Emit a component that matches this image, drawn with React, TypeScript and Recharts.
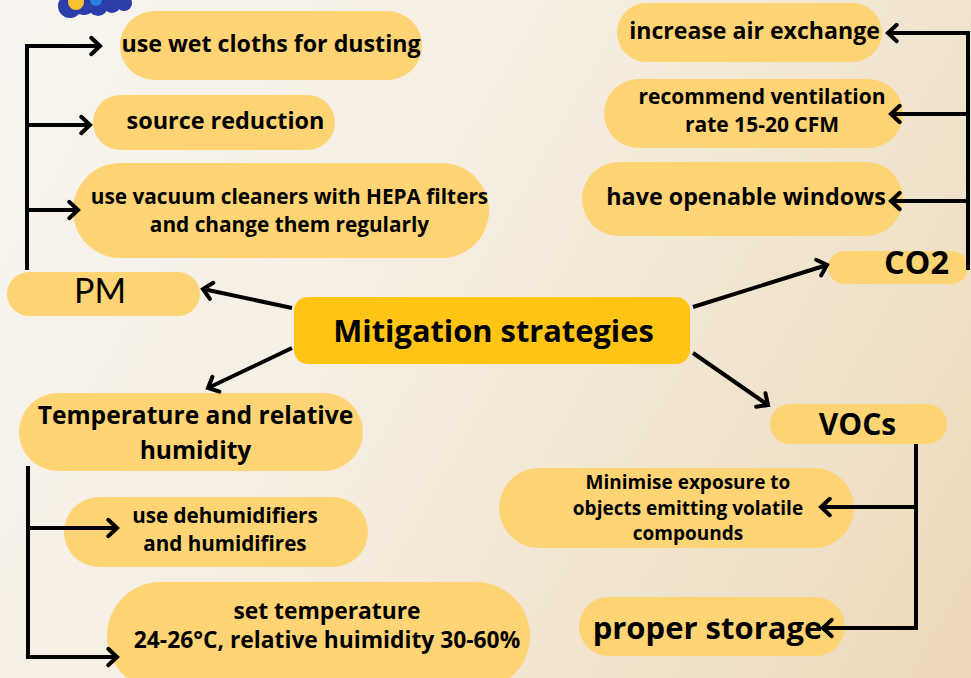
import React from 'react';
import { ScatterChart, Scatter, XAxis, YAxis } from 'recharts';

const W = 971;
const H = 678;
const FONT_BOLD = '"Open Sans", "Noto Sans", sans-serif';
const FONT_REG = 'Lato, "Noto Sans", sans-serif';

// Mind-map nodes: id, text lines, box centre (x, y)
const nodeIds = ['wet', 'source', 'vacuum', 'pm', 'center', 'co2', 'vocs', 'temp', 'dehum', 'settemp', 'minimise', 'storage', 'air', 'vent', 'windows'];
const nodeLabels: Record<string, string[]> = {
  wet: ['use wet cloths for dusting'],
  source: ['source reduction'],
  vacuum: ['use vacuum cleaners with HEPA filters', 'and change them regularly'],
  pm: ['PM'],
  center: ['Mitigation strategies'],
  co2: ['CO2'],
  vocs: ['VOCs'],
  temp: ['Temperature and relative', 'humidity'],
  dehum: ['use dehumidifiers', 'and humidifires'],
  settemp: ['set temperature', '24-26°C, relative huimidity 30-60%'],
  minimise: ['Minimise exposure to', 'objects emitting volatile', 'compounds'],
  storage: ['proper storage'],
  air: ['increase air exchange'],
  vent: ['recommend ventilation', 'rate 15-20 CFM'],
  windows: ['have openable windows'],
};
const nodeX = [271, 214, 281, 103.5, 492, 898, 858.5, 191, 216, 318.5, 676.5, 712, 749.5, 753.5, 742.5];
const nodeY = [45.5, 122.5, 210.5, 294, 330.5, 267.5, 424, 432, 532, 636, 508, 626.5, 32.5, 113.5, 199];

// Box / text styling per node
const nodeStyle: Record<string, { w: number; h: number; fs: number; tx: number; ty: number; lh: number; weight: number; fill: string; rx?: number }> = {
  wet: { w: 302, h: 69, fs: 23.2, tx: 271, ty: 43, lh: 0, weight: 700, fill: '#FED474' },
  source: { w: 242, h: 55, fs: 23.4, tx: 225.5, ty: 120, lh: 0, weight: 700, fill: '#FED474' },
  vacuum: { w: 416, h: 95, fs: 20.8, tx: 289.5, ty: 210, lh: 28, weight: 700, fill: '#FED474' },
  pm: { w: 193, h: 44, fs: 34, tx: 100, ty: 289, lh: 0, weight: 400, fill: '#FED474' },
  center: { w: 396, h: 67, fs: 30.8, tx: 493.5, ty: 330, lh: 0, weight: 700, fill: '#FFC414', rx: 14 },
  co2: { w: 140, h: 33, fs: 32.5, tx: 916.5, ty: 261, lh: 0, weight: 700, fill: '#FED474' },
  vocs: { w: 177, h: 40, fs: 30, tx: 857.5, ty: 423, lh: 0, weight: 700, fill: '#FED474' },
  temp: { w: 344, h: 78, fs: 24.6, tx: 195.5, ty: 431.5, lh: 35, weight: 700, fill: '#FED474' },
  dehum: { w: 304, h: 70, fs: 20.6, tx: 225, ty: 529, lh: 28, weight: 700, fill: '#FED474' },
  settemp: { w: 423, h: 108, fs: 22.8, tx: 327, ty: 624.5, lh: 29, weight: 700, fill: '#FED474' },
  minimise: { w: 355, h: 80, fs: 19, tx: 688, ty: 507.5, lh: 25.5, weight: 700, fill: '#FED474' },
  storage: { w: 266, h: 59, fs: 31, tx: 707.5, ty: 627, lh: 0, weight: 700, fill: '#FED474' },
  air: { w: 265, h: 59, fs: 23.1, tx: 754.5, ty: 30, lh: 0, weight: 700, fill: '#FED474' },
  vent: { w: 299, h: 69, fs: 21, tx: 762, ty: 110, lh: 28, weight: 700, fill: '#FED474' },
  windows: { w: 321, h: 74, fs: 23.3, tx: 746, ty: 196, lh: 0, weight: 700, fill: '#FED474' },
};

// Connectors: polylines, arrowhead at last point
const edgeIds = ['pmTrunk', 'pmSource', 'pmVacuum', 'toPm', 'toTemp', 'toCo2', 'toVocs', 'co2Trunk', 'co2Vent', 'co2Win', 'vocTrunk', 'vocMin', 'tempTrunk', 'tempDehum'];
const edgeXs = [
  [27, 27, 100], [27, 90], [27, 78], [292, 203], [292, 208], [693, 827], [693, 768],
  [968, 968, 888], [968, 891], [968, 891], [916, 916, 823], [916, 821], [28, 28, 117], [28, 117],
];
const edgeYs = [
  [270, 46, 46], [125, 125], [210, 210], [308, 289], [348, 388], [307, 265], [353, 405],
  [270, 33, 33], [114, 114], [201, 201], [444, 628, 628], [507, 507], [466, 657, 657], [528, 528],
];

// Logo blobs (top-left decoration)
const logoX = [70, 84, 98, 112, 124, 76, 96];
const logoY = [6, 4, 6, 4, 3, 2, 0];
const logoR = [12, 11, 10, 9, 8, 8, 6];
const logoC = ['#2B3DA8', '#2B3DA8', '#2B3DA8', '#2B3DA8', '#2B3DA8', '#F8C22E', '#2F7FE0'];

const nodeData = nodeIds.map((id, i) => ({ id, x: nodeX[i], y: nodeY[i], lines: nodeLabels[id] }));
const edgeData = edgeIds.map((id, i) =>
  edgeXs[i].map((x, j) => ({
    x,
    y: edgeYs[i][j],
    head: j === edgeXs[i].length - 1,
    px: j > 0 ? edgeXs[i][j - 1] : x,
    py: j > 0 ? edgeYs[i][j - 1] : edgeYs[i][j],
  }))
);
const logoData = logoX.map((x, i) => ({ x, y: logoY[i], r: logoR[i], c: logoC[i] }));

const NodeShape = (props: any) => {
  const { cx, cy, payload } = props;
  const s = nodeStyle[payload.id];
  const lines: string[] = payload.lines;
  const dx = s.tx - payload.x;
  const dy = s.ty - payload.y;
  const n = lines.length;
  return (
    <g>
      <rect x={cx - s.w / 2} y={cy - s.h / 2} width={s.w} height={s.h} rx={s.rx ?? s.h / 2} ry={s.rx ?? s.h / 2} fill={s.fill} />
      {lines.map((ln, k) => (
        <text
          key={k}
          x={cx + dx}
          y={cy + dy + (k - (n - 1) / 2) * s.lh}
          textAnchor="middle"
          dominantBaseline="central"
          fontFamily={s.weight === 700 ? FONT_BOLD : FONT_REG}
          fontWeight={s.weight}
          fontSize={s.fs}
          fill="#000"
        >
          {ln}
        </text>
      ))}
    </g>
  );
};

const HeadShape = (props: any) => {
  const { cx, cy, payload } = props;
  if (!payload.head) return <g />;
  const ang = Math.atan2(payload.y - payload.py, payload.x - payload.px);
  const L = 12;
  const a1 = ang + Math.PI - 0.75;
  const a2 = ang + Math.PI + 0.75;
  const d = `M${cx + L * Math.cos(a1)},${cy + L * Math.sin(a1)} L${cx},${cy} L${cx + L * Math.cos(a2)},${cy + L * Math.sin(a2)}`;
  return <path d={d} fill="none" stroke="#000" strokeWidth={4} strokeLinejoin="miter" strokeLinecap="round" />;
};

const LogoShape = (props: any) => {
  const { cx, cy, payload } = props;
  return <circle cx={cx} cy={cy} r={payload.r} fill={payload.c} />;
};

export default function App() {
  return (
    <div
      style={{
        position: 'absolute',
        left: 0,
        top: 0,
        width: W,
        height: H,
        overflow: 'hidden',
        background: 'linear-gradient(120deg, #F7F5F0 0%, #F5EEE2 40%, #F0E3CC 75%, #EDD9BC 100%)',
      }}
    >
      <ScatterChart width={W} height={H} margin={{ top: 0, right: 0, bottom: 0, left: 0 }}>
        <XAxis type="number" dataKey="x" domain={[0, W]} hide allowDataOverflow />
        <YAxis type="number" dataKey="y" domain={[0, H]} reversed hide allowDataOverflow />
        <Scatter data={logoData} shape={LogoShape} isAnimationActive={false} />
        <Scatter data={nodeData} shape={NodeShape} isAnimationActive={false} />
        {edgeData.map((pts, i) => (
          <Scatter
            key={edgeIds[i]}
            data={pts}
            line={{ stroke: '#000', strokeWidth: 4 }}
            lineType="joint"
            shape={HeadShape}
            isAnimationActive={false}
          />
        ))}
      </ScatterChart>
    </div>
  );
}
